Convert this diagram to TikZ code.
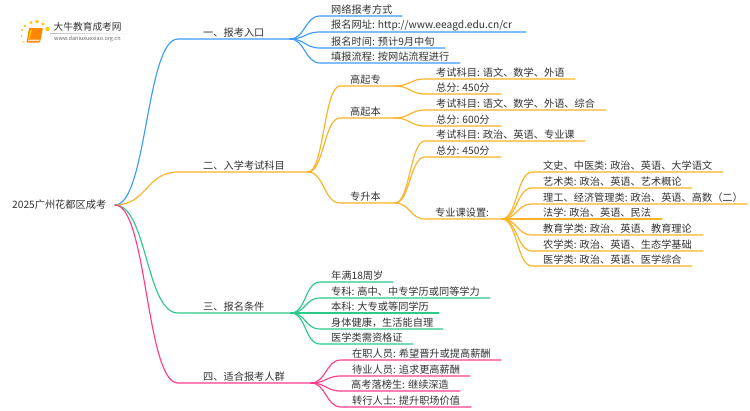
\documentclass[tikz,border=0pt]{standalone}
\usepackage{fontspec}
\setmainfont{Noto Sans CJK SC}
\definecolor{cblue}{HTML}{3D9BFF}
\definecolor{corange}{HTML}{FBB225}
\definecolor{cgreen}{HTML}{2BC98A}
\definecolor{cpink}{HTML}{FF3D8B}
\definecolor{ctext}{HTML}{333333}
\tikzset{
  txt/.style={anchor=west,inner sep=0pt,text=ctext,font=\fontsize{10.2}{12}\selectfont},
  conn/.style={line width=1.15pt,line cap=round},
}
% \itm{name}{parent}{x start}{y line}{x end}{text x}{colour}{half-width of curve}{text}
\newcommand{\itm}[9]{%
  \coordinate (#1a) at (#3,#4);
  \coordinate (#1) at (#5,#4);
  \node[txt] (#1t) at (#6,#4-6.2) {#9};
  \draw[conn,#7] (#2) .. controls +(#8,0) and +(-#8,0) .. (#1a) -- (#1);
}
\begin{document}
\begin{tikzpicture}[x=1pt,y=-1pt]
\useasboundingbox (0,0) rectangle (750,410);
\fill[white] (0,0) rectangle (750,410);
% logo
\node[anchor=west,inner sep=0pt,text=ctext,font=\fontsize{9.7}{11}\selectfont] (logot) at (53.5,27) {大牛教育成考网};
\node[anchor=west,inner sep=0pt,text=black!60,font=\fontsize{5.5}{6}\selectfont] (logou) at (54,38.7) {www.daniuxuexiao.org.cn};
\shade[left color=black!25,right color=white] (50,33) rectangle (132,33.5);
\fill[orange!95!yellow,rounded corners=1pt] (29,28) -- (43,28) -- (40,42.5) -- (26.5,42.5) -- cycle;
\fill[white!80!orange] (28.5,39.5) -- (39.5,39.5) -- (39.2,41) -- (28.2,41) -- cycle;
\fill[yellow!70!orange] (30.5,29.5) -- (32,29.5) -- (29.5,39) -- (28.2,39) -- cycle;
\foreach \px/\py/\pr in {21.5/36/1,22/30/1.2,25/26/1.4,31/22.5/1.6,37/21.5/1.8,43/24/1.7,47.5/29/2.1,23/42/.8}
  \fill[yellow!60!orange] (\px,\py) circle (\pr);
% root
\node[txt] (root) at (12,205) {2025广州花都区成考};
\coordinate (rr) at (115,205);
% branch 1
\itm{b1}{rr}{178}{39}{290}{203}{cblue}{32}{一、报考入口}
\itm{a1}{b1}{320}{16}{402}{331}{cblue}{15}{网络报考方式}
\itm{a2}{b1}{320}{32}{526}{331}{cblue}{15}{报名网址: http://www.eeagd.edu.cn/cr}
\itm{a3}{b1}{320}{48}{445}{331}{cblue}{15}{报名时间: 预计9月中旬}
\itm{a4}{b1}{320}{63}{460}{331}{cblue}{15}{填报流程: 按网站流程进行}
% branch 2
\itm{b2}{rr}{178}{172}{308}{203}{corange}{32}{二、入学考试科目}
\itm{c1}{b2}{340}{86}{395}{350}{corange}{16}{高起专}
\itm{c2}{b2}{340}{118}{395}{350}{corange}{16}{高起本}
\itm{c3}{b2}{340}{203}{395}{350}{corange}{16}{专升本}
\itm{d1}{c1}{425}{79}{575}{436}{corange}{15}{考试科目: 语文、数学、外语}
\itm{d2}{c1}{425}{94}{501}{436}{corange}{15}{总分: 450分}
\itm{d3}{c2}{425}{110}{606}{436}{corange}{15}{考试科目: 语文、数学、外语、综合}
\itm{d4}{c2}{425}{126}{501}{436}{corange}{15}{总分: 600分}
\itm{d5}{c3}{425}{141}{585}{436}{corange}{15}{考试科目: 政治、英语、专业课}
\itm{d6}{c3}{425}{157}{501}{436}{corange}{15}{总分: 450分}
\itm{d7}{c3}{425}{219}{502}{435}{corange}{15}{专业课设置:}
\itm{e1}{d7}{532}{172}{723}{543}{corange}{15}{文史、中医类: 政治、英语、大学语文}
\itm{e2}{d7}{532}{188}{692}{543}{corange}{15}{艺术类: 政治、英语、艺术概论}
\itm{e3}{d7}{532}{204}{747}{543}{corange}{15}{理工、经济管理类: 政治、英语、高数（二）}
\itm{e4}{d7}{532}{219}{662}{543}{corange}{15}{法学: 政治、英语、民法}
\itm{e5}{d7}{532}{235}{703}{543}{corange}{15}{教育学类: 政治、英语、教育理论}
\itm{e6}{d7}{532}{251}{703}{543}{corange}{15}{农学类: 政治、英语、生态学基础}
\itm{e7}{d7}{532}{266}{692}{543}{corange}{15}{医学类: 政治、英语、医学综合}
% branch 3
\itm{b3}{rr}{178}{313}{291}{203}{cgreen}{32}{三、报名条件}
\itm{f1}{b3}{320}{282}{393}{331}{cgreen}{15}{年满18周岁}
\itm{f2}{b3}{320}{298}{490}{331}{cgreen}{15}{专科: 高中、中专学历或同等学力}
\itm{f3}{b3}{320}{313}{439}{331}{cgreen}{15}{本科: 大专或等同学历}
\itm{f4}{b3}{320}{329}{443}{331}{cgreen}{15}{身体健康，生活能自理}
\itm{f5}{b3}{320}{344}{413}{331}{cgreen}{15}{医学类需资格证}
% branch 4
\itm{b4}{rr}{178}{383}{311}{203}{cpink}{32}{四、适合报考人群}
\itm{g1}{b4}{341}{360}{501}{352}{cpink}{15}{在职人员: 希望晋升或提高薪酬}
\itm{g2}{b4}{341}{376}{470}{352}{cpink}{15}{待业人员: 追求更高薪酬}
\itm{g3}{b4}{341}{391}{460}{351}{cpink}{15}{高考落榜生: 继续深造}
\itm{g4}{b4}{341}{407}{471}{352}{cpink}{15}{转行人士: 提升职场价值}
\end{tikzpicture}
\end{document}
